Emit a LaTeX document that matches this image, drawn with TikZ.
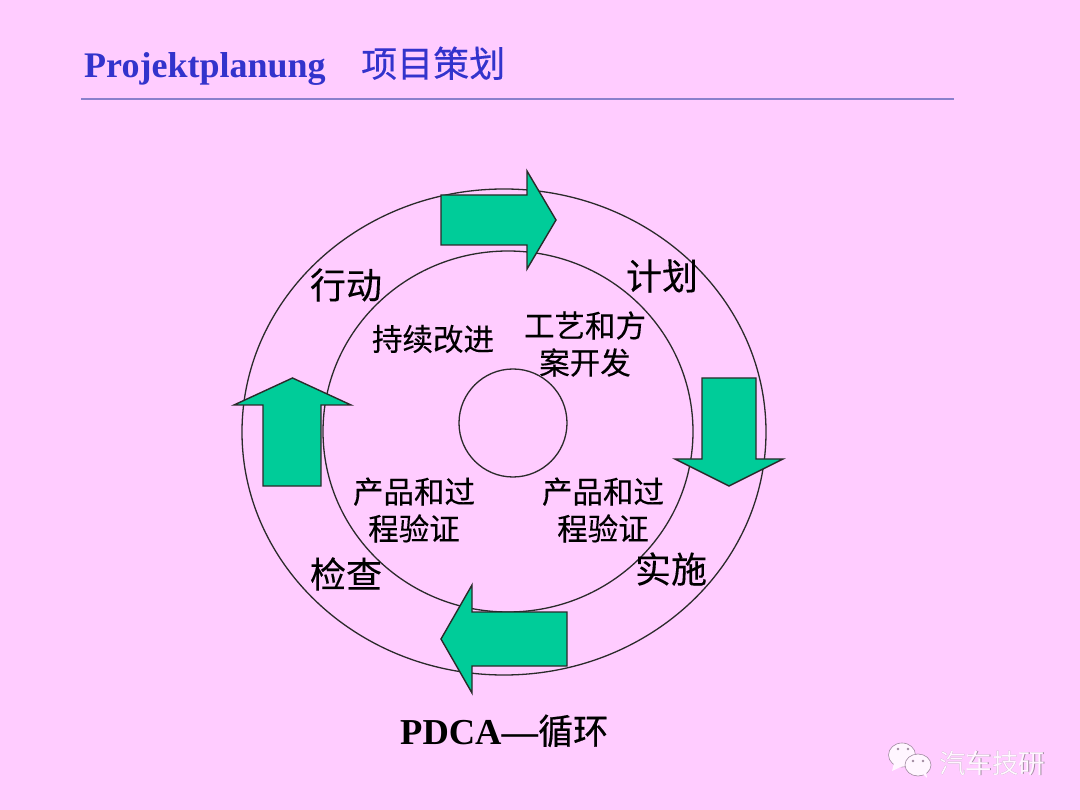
\documentclass[tikz,border=0pt]{standalone}
\usepackage{fontspec}
\setmainfont{Liberation Serif}
\newfontfamily\cjk[FakeBold=0.25]{Noto Sans CJK SC}
\newfontfamily\cjkb[FakeBold=0.6]{Noto Sans CJK SC}
\newfontfamily\cjkl{Noto Sans CJK SC}
\usetikzlibrary{shapes.geometric}
\definecolor{bgpink}{HTML}{FFCCFF}
\definecolor{titleblue}{HTML}{3333CC}
\definecolor{rulecol}{HTML}{8A80CC}
\definecolor{arrowgreen}{HTML}{00CC99}
\definecolor{ringcol}{HTML}{2A2A2A}
\definecolor{markwhite}{HTML}{FFF6FF}
\definecolor{markshade}{HTML}{A08AA0}
\tikzset{
  ring/.style={draw=ringcol,line width=1.3pt,ellipse,inner sep=0pt},
  bigarrow/.style={draw=ringcol,line width=1.4pt,fill=arrowgreen,line join=miter},
  phase/.style={font=\cjk\fontsize{36}{40}\selectfont,inner sep=0pt,text=black},
  steptext/.style={font=\cjk\fontsize{30.5}{37}\selectfont,inner sep=0pt,align=center,text=black},
  bubble/.style={fill=markwhite,draw=markshade,line width=0.6pt},
}
\begin{document}
\begin{tikzpicture}[x=1pt,y=-1pt]
\useasboundingbox (0,0) rectangle (1080,810);
\fill[bgpink] (0,0) rectangle (1080,810);
% title
\node[anchor=base west,inner sep=0pt,text=titleblue,font=\bfseries\fontsize{36}{40}\selectfont] (title) at (84,78) {Projektplanung};
\node[anchor=base west,inner sep=0pt,text=titleblue,font=\cjk\fontsize{36}{40}\selectfont] (titlecn) at (361,77) {项目策划};
\coordinate (ruleL) at (81,99);
\coordinate (ruleR) at (954,99);
\draw[rulecol,line width=1.8pt] (ruleL) -- (ruleR);
% rings
\node[ring,minimum width=524pt,minimum height=486pt] (outer) at (504,432) {};
\node[ring,minimum width=370pt,minimum height=361pt] (inner) at (508,431.5) {};
\node[ring,minimum width=108pt,minimum height=108pt] (hub) at (513,423) {};
% arrows
\draw[bigarrow] (441,195) -- (527,195) -- (527,171) -- (556,220) -- (527,269) -- (527,245) -- (441,245) -- cycle;
\draw[bigarrow] (702,378) -- (756,378) -- (756,459) -- (783,459) -- (729,486) -- (675,459) -- (702,459) -- cycle;
\draw[bigarrow] (567,612) -- (567,666) -- (472,666) -- (472,693) -- (441,639) -- (472,585) -- (472,612) -- cycle;
\draw[bigarrow] (263,486) -- (321,486) -- (321,405) -- (351,405) -- (292.5,378) -- (234,405) -- (263,405) -- cycle;
% phase labels
\node[phase] (act) at (346,285) {行动};
\node[phase] (plan) at (662,276) {计划};
\node[phase] (do) at (671,569) {实施};
\node[phase] (check) at (346,574) {检查};
% step labels
\node[steptext] (s1) at (433,339) {持续改进};
\node[steptext] (s2) at (585,344) {工艺和方\\案开发};
\node[steptext] (s3) at (414,510) {产品和过\\程验证};
\node[steptext] (s4) at (603,510) {产品和过\\程验证};
% caption
\node[anchor=base west,inner sep=0pt,font=\bfseries\fontsize{36.5}{40}\selectfont] (pdca) at (400,744) {PDCA—};
\node[anchor=base west,inner sep=0pt,font=\cjkb\fontsize{35}{40}\selectfont] (pdcacn) at (538,744) {循环};
% watermark
\draw[bubble] (902,755) ellipse (13.5 and 12);
\fill[markwhite] (894,763) -- (892,771) -- (903,766) -- cycle;
\draw[bubble] (918,765) ellipse (13 and 11);
\fill[markwhite] (922,773) -- (927,778) -- (926,771) -- cycle;
\fill[markshade] (898,749) circle (1.3) (908,749) circle (1.3) (913,761) circle (1.3) (923,761) circle (1.3);
\node[anchor=center,inner sep=0pt,text=markshade,font=\cjkl\fontsize{26.5}{30}\selectfont] (wmshadow) at (992.7,763.7) {汽车技研};
\node[anchor=center,inner sep=0pt,text=markwhite,font=\cjkl\fontsize{26.5}{30}\selectfont] (wm) at (992,763) {汽车技研};
\end{tikzpicture}
\end{document}
